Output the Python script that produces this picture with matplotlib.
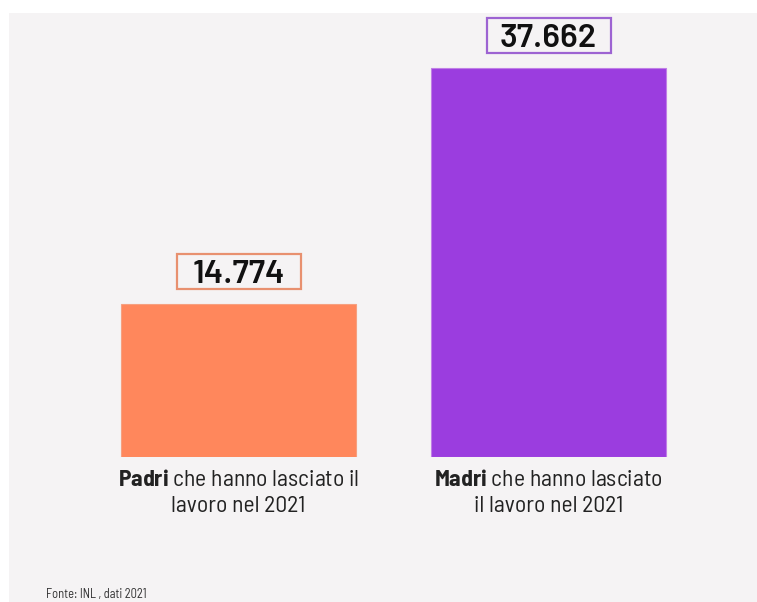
import matplotlib
matplotlib.use('Agg')
import matplotlib.pyplot as plt
import matplotlib.patches as mpatches
import matplotlib.transforms as mtransforms

# Values and labels
categories = ['Padri', 'Madri']
values = [14774, 37662]
value_labels = ['14.774', '37.662']
descriptions = [
    'che hanno lasciato il\nlavoro nel 2021',
    'che hanno lasciato\nil lavoro nel 2021',
]
source_note = 'Fonte: INL , dati 2021'

bar_colors = ['#ff875c', '#9b3ddf']
bar_edges = ['#f6a080', '#c07fe6']
box_edges = ['#e8906f', '#9d63d2']
panel_bg = '#f5f3f4'
label_font = 'Barlow Semi Condensed'
number_font = 'Barlow'

plt.rcParams['mathtext.fontset'] = 'custom'
plt.rcParams['mathtext.rm'] = label_font
plt.rcParams['mathtext.bf'] = label_font + ':bold'

W, H = 757, 602
fig = plt.figure(figsize=(W / 100, H / 100), dpi=100)
fig.patch.set_facecolor('white')

# light panel behind everything
fig.patches.append(mpatches.Rectangle((9 / W, 0), 1, 1 - 13 / H,
                                      transform=fig.transFigure,
                                      facecolor=panel_bg, edgecolor='none',
                                      zorder=-1))

# axes: baseline at y=457px, top of panel at y=13px
ax = fig.add_axes([83.5 / W, (H - 457) / H, 620 / W, 444 / H])
ax.set_facecolor('none')
ymax = max(values) * 444 / 389
ax.set_xlim(-0.5, 1.5)
ax.set_ylim(0, ymax)
ax.axis('off')

x = list(range(len(categories)))
ax.bar(x, values, width=235 / 310, color=bar_colors,
       edgecolor=bar_edges, linewidth=0.8)

# value boxes, sized in pixels and anchored on top of each bar
box_w, box_h, gap = 124, 35, 15
for xi, v, lab, ec in zip(x, values, value_labels, box_edges):
    anchor = mtransforms.ScaledTranslation(xi, v, ax.transData)
    box = mpatches.Rectangle((-box_w / 2, gap), box_w, box_h,
                             transform=mtransforms.IdentityTransform() + anchor,
                             facecolor='none', edgecolor=ec, linewidth=1.6)
    ax.add_artist(box)
    ax.annotate(lab, xy=(xi, v), xytext=(0, (gap + box_h / 2) * 0.72),
                textcoords='offset points', ha='center', va='center_baseline',
                fontsize=24, fontweight='semibold', family=number_font,
                color='#111111')

for xi, cat, desc in zip(x, categories, descriptions):
    first, second = desc.split('\n')
    txt = r'$\mathbf{' + cat + '}$ ' + first + '\n' + second
    ax.annotate(txt, xy=(xi, 0), xytext=(0, -9), textcoords='offset points',
                ha='center', va='top', multialignment='center',
                fontsize=17, family=label_font, color='#222222',
                linespacing=1.32)

fig.text(46 / W, 1 / H, source_note, ha='left', va='bottom', fontsize=9,
         family=label_font, color='#333333')

fig.savefig('out.png', dpi=100, facecolor=fig.get_facecolor())
